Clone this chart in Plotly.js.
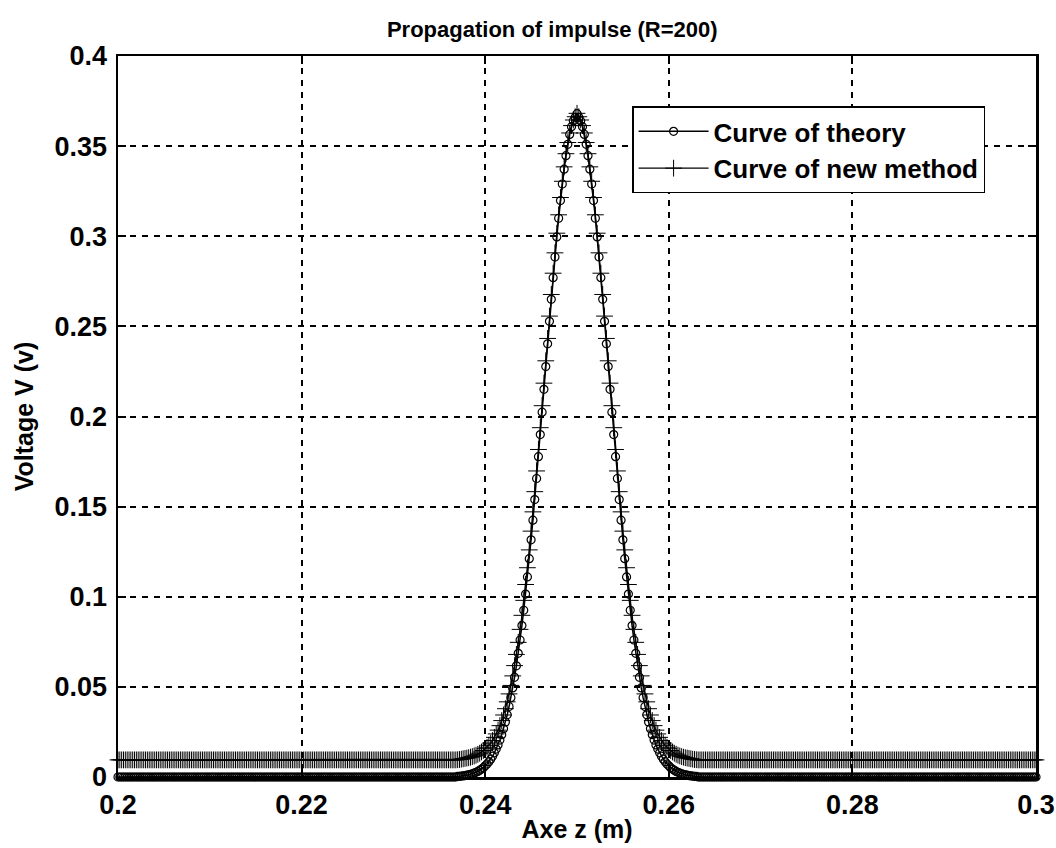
<!DOCTYPE html>
<html>
<head>
<meta charset="utf-8">
<script src="https://cdn.plot.ly/plotly-3.0.1.min.js"></script>
<style>html,body{margin:0;padding:0;background:#fff;}#chart{width:1056px;height:848px;}</style>
</head>
<body>
<div id="chart"></div>
<script>
// Axe z sampling (m): first sample and spacing
const zStart = 0.2;
const zStep = 0.0002;

// Curve of theory (V), 501 samples from z = 0.2 to 0.3
const theoryV = [
0,0,0,0,0,0,0,0,0,0,
0,0,0,0,0,0,0,0,0,0,
0,0,0,0,0,0,0,0,0,0,
0,0,0,0,0,0,0,0,0,0,
0,0,0,0,0,0,0,0,0,0,
0,0,0,0,0,0,0,0,0,0,
0,0,0,0,0,0,0,0,0,0,
0,0,0,0,0,0,0,0,0,0,
0,0,0,0,0,0,0,0,0,0,
0,0,0,0,0,0,0,0,0,0,
0,0,0,0,0,0,0,0,0,0,
0,0,0,0,0,0,0,0,0,0,
0,0,0,0,0,0,0,0,0,0,
0,0,0,0,0,0,0,0,0,0,
0,0,0,0,0,0,0,0,0,0,
0,0,0,0,0,0,0,0,0,0,
0,0,0,0,0,0,0,0,0,0,
0,0,0,0,0,0,0,0,0,0,
0,0,0,0,0,
0.0003,0.0004,0.0005,0.0006,0.0008,
0.0010,0.0012,0.0015,0.0018,0.0022,0.0026,0.0031,0.0037,0.0044,0.0052,
0.0062,0.0072,0.0085,0.0099,0.0115,0.0134,0.0155,0.0178,0.0205,0.0235,
0.0268,0.0305,0.0345,0.0391,0.0440,0.0494,0.0553,0.0617,0.0686,0.0760,
0.0840,0.0925,0.1015,0.1110,0.1211,0.1316,0.1425,0.1539,0.1656,0.1777,
0.1900,0.2024,0.2151,0.2277,0.2403,0.2528,0.2650,0.2770,0.2885,0.2996,
0.3100,0.3198,0.3290,0.3372,0.3447,0.3510,0.3565,0.3608,0.3640,0.3660,
0.3680,
0.3660,0.3640,0.3608,0.3565,0.3510,0.3447,0.3372,0.3290,0.3198,0.3100,
0.2996,0.2885,0.2770,0.2650,0.2528,0.2403,0.2277,0.2151,0.2024,0.1900,
0.1777,0.1656,0.1539,0.1425,0.1316,0.1211,0.1110,0.1015,0.0925,0.0840,
0.0760,0.0686,0.0617,0.0553,0.0494,0.0440,0.0391,0.0345,0.0305,0.0268,
0.0235,0.0205,0.0178,0.0155,0.0134,0.0115,0.0099,0.0085,0.0072,0.0062,
0.0052,0.0044,0.0037,0.0031,0.0026,0.0022,0.0018,0.0015,0.0012,0.0010,
0.0008,0.0006,0.0005,0.0004,0.0003,
0,0,0,0,0,0,0,0,0,0,
0,0,0,0,0,0,0,0,0,0,
0,0,0,0,0,0,0,0,0,0,
0,0,0,0,0,0,0,0,0,0,
0,0,0,0,0,0,0,0,0,0,
0,0,0,0,0,0,0,0,0,0,
0,0,0,0,0,0,0,0,0,0,
0,0,0,0,0,0,0,0,0,0,
0,0,0,0,0,0,0,0,0,0,
0,0,0,0,0,0,0,0,0,0,
0,0,0,0,0,0,0,0,0,0,
0,0,0,0,0,0,0,0,0,0,
0,0,0,0,0,0,0,0,0,0,
0,0,0,0,0,0,0,0,0,0,
0,0,0,0,0,0,0,0,0,0,
0,0,0,0,0,0,0,0,0,0,
0,0,0,0,0,0,0,0,0,0,
0,0,0,0,0,0,0,0,0,0,
0,0,0,0,0
];

// Curve of new method (V), 501 samples from z = 0.2 to 0.3
const newMethodV = [
0.0095,0.0095,0.0095,0.0095,0.0095,0.0095,0.0095,0.0095,0.0095,0.0095,
0.0095,0.0095,0.0095,0.0095,0.0095,0.0095,0.0095,0.0095,0.0095,0.0095,
0.0095,0.0095,0.0095,0.0095,0.0095,0.0095,0.0095,0.0095,0.0095,0.0095,
0.0095,0.0095,0.0095,0.0095,0.0095,0.0095,0.0095,0.0095,0.0095,0.0095,
0.0095,0.0095,0.0095,0.0095,0.0095,0.0095,0.0095,0.0095,0.0095,0.0095,
0.0095,0.0095,0.0095,0.0095,0.0095,0.0095,0.0095,0.0095,0.0095,0.0095,
0.0095,0.0095,0.0095,0.0095,0.0095,0.0095,0.0095,0.0095,0.0095,0.0095,
0.0095,0.0095,0.0095,0.0095,0.0095,0.0095,0.0095,0.0095,0.0095,0.0095,
0.0095,0.0095,0.0095,0.0095,0.0095,0.0095,0.0095,0.0095,0.0095,0.0095,
0.0095,0.0095,0.0095,0.0095,0.0095,0.0095,0.0095,0.0095,0.0095,0.0095,
0.0095,0.0095,0.0095,0.0095,0.0095,0.0095,0.0095,0.0095,0.0095,0.0095,
0.0095,0.0095,0.0095,0.0095,0.0095,0.0095,0.0095,0.0095,0.0095,0.0095,
0.0095,0.0095,0.0095,0.0095,0.0095,0.0095,0.0095,0.0095,0.0095,0.0095,
0.0095,0.0095,0.0095,0.0095,0.0095,0.0095,0.0095,0.0095,0.0095,0.0095,
0.0095,0.0095,0.0095,0.0095,0.0095,0.0095,0.0095,0.0095,0.0095,0.0095,
0.0095,0.0095,0.0095,0.0095,0.0095,0.0095,0.0095,0.0095,0.0095,0.0095,
0.0095,0.0095,0.0095,0.0095,0.0095,0.0095,0.0095,0.0095,0.0095,0.0095,
0.0095,0.0095,0.0095,0.0095,0.0095,0.0095,0.0095,0.0095,0.0095,0.0095,
0.0095,0.0095,0.0095,0.0095,0.0095,
0.0096,0.0097,0.0099,0.0101,0.0103,
0.0105,0.0107,0.0110,0.0113,0.0117,0.0121,0.0126,0.0132,0.0139,0.0147,
0.0157,0.0165,0.0176,0.0188,0.0202,0.0220,0.0239,0.0260,0.0285,0.0313,
0.0344,0.0379,0.0417,0.0461,0.0508,0.0561,0.0618,0.0680,0.0747,0.0819,
0.0897,0.0980,0.1068,0.1161,0.1260,0.1364,0.1471,0.1583,0.1698,0.1817,
0.1938,0.2060,0.2185,0.2309,0.2433,0.2557,0.2677,0.2795,0.2908,0.3017,
0.3119,0.3215,0.3305,0.3385,0.3458,0.3520,0.3573,0.3614,0.3645,0.3663,
0.3682,
0.3663,0.3645,0.3614,0.3573,0.3520,0.3458,0.3385,0.3305,0.3215,0.3119,
0.3017,0.2908,0.2795,0.2677,0.2557,0.2433,0.2309,0.2185,0.2060,0.1938,
0.1817,0.1698,0.1583,0.1471,0.1364,0.1260,0.1161,0.1068,0.0980,0.0897,
0.0819,0.0747,0.0680,0.0618,0.0561,0.0508,0.0461,0.0417,0.0379,0.0344,
0.0313,0.0285,0.0260,0.0239,0.0220,0.0202,0.0188,0.0176,0.0165,0.0157,
0.0147,0.0139,0.0132,0.0126,0.0121,0.0117,0.0113,0.0110,0.0107,0.0105,
0.0103,0.0101,0.0099,0.0097,0.0096,
0.0095,0.0095,0.0095,0.0095,0.0095,0.0095,0.0095,0.0095,0.0095,0.0095,
0.0095,0.0095,0.0095,0.0095,0.0095,0.0095,0.0095,0.0095,0.0095,0.0095,
0.0095,0.0095,0.0095,0.0095,0.0095,0.0095,0.0095,0.0095,0.0095,0.0095,
0.0095,0.0095,0.0095,0.0095,0.0095,0.0095,0.0095,0.0095,0.0095,0.0095,
0.0095,0.0095,0.0095,0.0095,0.0095,0.0095,0.0095,0.0095,0.0095,0.0095,
0.0095,0.0095,0.0095,0.0095,0.0095,0.0095,0.0095,0.0095,0.0095,0.0095,
0.0095,0.0095,0.0095,0.0095,0.0095,0.0095,0.0095,0.0095,0.0095,0.0095,
0.0095,0.0095,0.0095,0.0095,0.0095,0.0095,0.0095,0.0095,0.0095,0.0095,
0.0095,0.0095,0.0095,0.0095,0.0095,0.0095,0.0095,0.0095,0.0095,0.0095,
0.0095,0.0095,0.0095,0.0095,0.0095,0.0095,0.0095,0.0095,0.0095,0.0095,
0.0095,0.0095,0.0095,0.0095,0.0095,0.0095,0.0095,0.0095,0.0095,0.0095,
0.0095,0.0095,0.0095,0.0095,0.0095,0.0095,0.0095,0.0095,0.0095,0.0095,
0.0095,0.0095,0.0095,0.0095,0.0095,0.0095,0.0095,0.0095,0.0095,0.0095,
0.0095,0.0095,0.0095,0.0095,0.0095,0.0095,0.0095,0.0095,0.0095,0.0095,
0.0095,0.0095,0.0095,0.0095,0.0095,0.0095,0.0095,0.0095,0.0095,0.0095,
0.0095,0.0095,0.0095,0.0095,0.0095,0.0095,0.0095,0.0095,0.0095,0.0095,
0.0095,0.0095,0.0095,0.0095,0.0095,0.0095,0.0095,0.0095,0.0095,0.0095,
0.0095,0.0095,0.0095,0.0095,0.0095,0.0095,0.0095,0.0095,0.0095,0.0095,
0.0095,0.0095,0.0095,0.0095,0.0095
];

const seriesNames = ['Curve of theory', 'Curve of new method'];
const xTickVals = [0.2, 0.22, 0.24, 0.26, 0.28, 0.3];
const xTickText = ['0.2', '0.22', '0.24', '0.26', '0.28', '0.3'];
const yTickVals = [0, 0.05, 0.1, 0.15, 0.2, 0.25, 0.3, 0.35, 0.4];
const yTickText = ['0', '0.05', '0.1', '0.15', '0.2', '0.25', '0.3', '0.35', '0.4'];

const FONT = "'Liberation Sans', Arial, Helvetica, sans-serif";

const traces = [
  {
    type: 'scatter', mode: 'lines+markers', name: seriesNames[0],
    x0: zStart, dx: zStep, y: theoryV,
    line: {color: '#000', width: 1.5},
    marker: {symbol: 'circle-open', size: 8, color: '#000', line: {color: '#000', width: 1.2}},
    cliponaxis: false
  },
  {
    type: 'scatter', mode: 'lines+markers', name: seriesNames[1],
    x0: zStart, dx: zStep, y: newMethodV,
    line: {color: '#000', width: 1.2},
    marker: {symbol: 'cross-thin-open', size: 12, color: '#000', line: {color: '#000', width: 1}},
    cliponaxis: false
  }
];

const axisCommon = {
  showline: true, linecolor: '#000', linewidth: 2.5, mirror: 'ticks',
  ticks: 'inside', ticklen: 8, tickwidth: 2, tickcolor: '#000',
  showgrid: true, gridcolor: '#000', gridwidth: 2, griddash: '6px,6px',
  zeroline: false,
  tickfont: {family: FONT, size: 27, color: '#000', weight: 'bold'}
};

const layout = {
  width: 1056, height: 848,
  paper_bgcolor: '#fff', plot_bgcolor: '#fff',
  margin: {l: 118, r: 20, t: 56, b: 71},
  showlegend: true,
  title: {
    text: 'Propagation of impulse (R=200)',
    font: {family: FONT, size: 22, color: '#000', weight: 'bold'},
    xref: 'container', x: 0.523, xanchor: 'center',
    yref: 'container', y: 0.965, yanchor: 'middle'
  },
  xaxis: Object.assign({}, axisCommon, {
    range: [0.2, 0.300001], tickmode: 'array', tickvals: xTickVals, ticktext: xTickText,
    ticklabelstandoff: 2,
    title: {text: 'Axe z (m)', font: {family: FONT, size: 25, color: '#000', weight: 'bold'}, standoff: 2}
  }),
  yaxis: Object.assign({}, axisCommon, {
    range: [0, 0.4], tickmode: 'array', tickvals: yTickVals, ticktext: yTickText,
    ticklabelstandoff: 3,
    title: {text: 'Voltage V (v)', font: {family: FONT, size: 25, color: '#000', weight: 'bold'}, standoff: 14}
  }),
  legend: {
    x: 0.56, y: 0.93, xanchor: 'left', yanchor: 'top',
    bgcolor: '#fff', bordercolor: '#000', borderwidth: 1.5,
    font: {family: FONT, size: 26, color: '#000', weight: 'bold'},
    itemwidth: 70, tracegroupgap: 0
  }
};

Plotly.newPlot('chart', traces, layout, {displayModeBar: false, staticPlot: true});
</script>
</body>
</html>
